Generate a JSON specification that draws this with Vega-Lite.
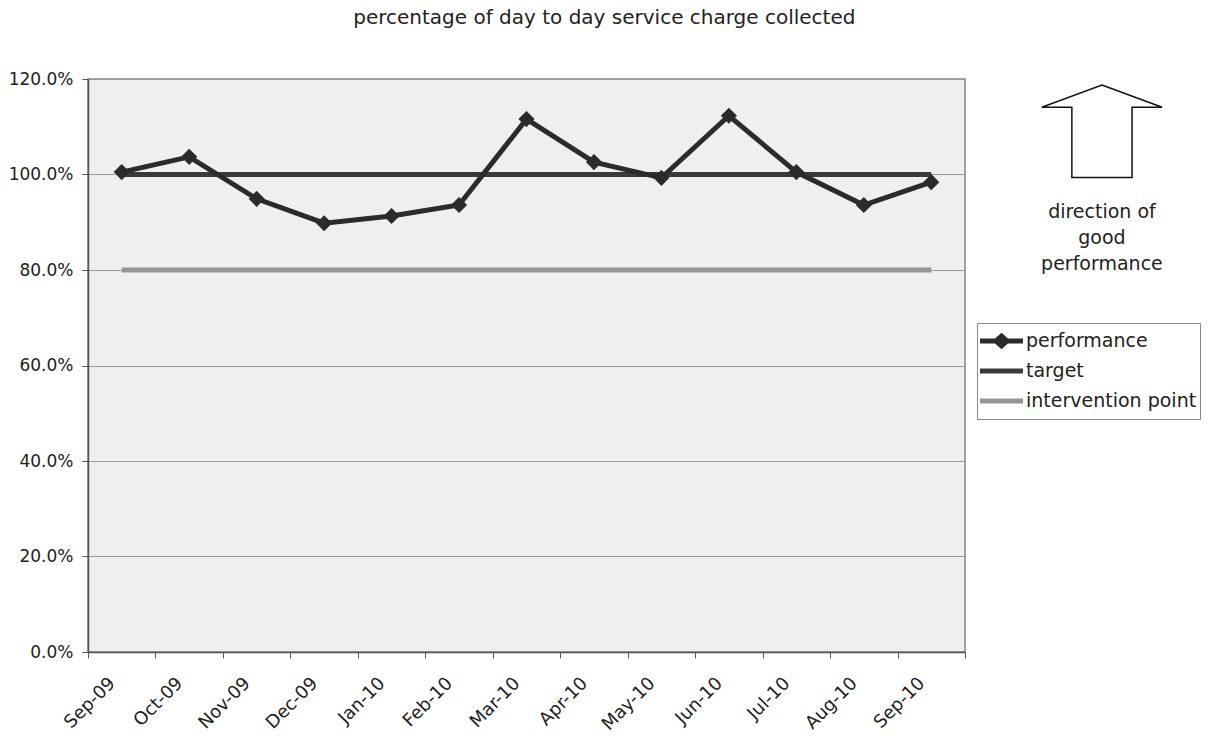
{
  "$schema": "https://vega.github.io/schema/vega-lite/v6.json",
  "autosize": {"type": "none"},
  "padding": {"left": 88, "top": 79, "right": 245, "bottom": 90},
  "width": 877,
  "height": 573,
  "background": "white",
  "title": {
    "text": "percentage of day to day service charge collected",
    "anchor": "middle",
    "frame": "bounds",
    "font": "DejaVu Sans",
    "fontSize": 20,
    "fontWeight": "normal",
    "color": "#222222",
    "offset": 42
  },
  "config": {
    "view": {"fill": "#efefef", "stroke": "#888888", "strokeWidth": 1.5},
    "axis": {"labelFont": "DejaVu Sans", "labelColor": "#222222", "titleFont": "DejaVu Sans"},
    "text": {"font": "DejaVu Sans"}
  },
  "datasets": {
    "main": [
      {"month": "Sep-09", "series": "performance", "value": 1.005},
      {"month": "Oct-09", "series": "performance", "value": 1.037},
      {"month": "Nov-09", "series": "performance", "value": 0.949},
      {"month": "Dec-09", "series": "performance", "value": 0.898},
      {"month": "Jan-10", "series": "performance", "value": 0.913},
      {"month": "Feb-10", "series": "performance", "value": 0.936},
      {"month": "Mar-10", "series": "performance", "value": 1.116},
      {"month": "Apr-10", "series": "performance", "value": 1.026},
      {"month": "May-10", "series": "performance", "value": 0.993},
      {"month": "Jun-10", "series": "performance", "value": 1.123},
      {"month": "Jul-10", "series": "performance", "value": 1.005},
      {"month": "Aug-10", "series": "performance", "value": 0.936},
      {"month": "Sep-10", "series": "performance", "value": 0.984},
      {"month": "Sep-09", "series": "target", "value": 1.0},
      {"month": "Oct-09", "series": "target", "value": 1.0},
      {"month": "Nov-09", "series": "target", "value": 1.0},
      {"month": "Dec-09", "series": "target", "value": 1.0},
      {"month": "Jan-10", "series": "target", "value": 1.0},
      {"month": "Feb-10", "series": "target", "value": 1.0},
      {"month": "Mar-10", "series": "target", "value": 1.0},
      {"month": "Apr-10", "series": "target", "value": 1.0},
      {"month": "May-10", "series": "target", "value": 1.0},
      {"month": "Jun-10", "series": "target", "value": 1.0},
      {"month": "Jul-10", "series": "target", "value": 1.0},
      {"month": "Aug-10", "series": "target", "value": 1.0},
      {"month": "Sep-10", "series": "target", "value": 1.0},
      {"month": "Sep-09", "series": "intervention point", "value": 0.8},
      {"month": "Oct-09", "series": "intervention point", "value": 0.8},
      {"month": "Nov-09", "series": "intervention point", "value": 0.8},
      {"month": "Dec-09", "series": "intervention point", "value": 0.8},
      {"month": "Jan-10", "series": "intervention point", "value": 0.8},
      {"month": "Feb-10", "series": "intervention point", "value": 0.8},
      {"month": "Mar-10", "series": "intervention point", "value": 0.8},
      {"month": "Apr-10", "series": "intervention point", "value": 0.8},
      {"month": "May-10", "series": "intervention point", "value": 0.8},
      {"month": "Jun-10", "series": "intervention point", "value": 0.8},
      {"month": "Jul-10", "series": "intervention point", "value": 0.8},
      {"month": "Aug-10", "series": "intervention point", "value": 0.8},
      {"month": "Sep-10", "series": "intervention point", "value": 0.8}
    ],
    "notes": [
      {"pos": 15.03, "value": 1.0905, "kind": "arrow", "label": ""},
      {"pos": 15.03, "value": 0.9215, "kind": "text", "label": "direction of\ngood\nperformance"}
    ]
  },
  "resolve": {"scale": {"x": "independent"}},
  "layer": [
    {
      "data": {"name": "main"},
      "layer": [
        {
          "transform": [{"filter": "datum.series == 'intervention point'"}],
          "mark": {"type": "line", "strokeWidth": 5, "color": "#959595"},
          "encoding": {
            "x": {"field": "month", "type": "ordinal", "sort": null,
              "scale": {"paddingInner": 0, "paddingOuter": 0},
              "axis": {"title": null, "labelAngle": -45, "labelFontSize": 18, "tickBand": "extent",
                "tickSize": 6, "tickColor": "#555555", "domainColor": "#555555", "domainWidth": 1.5,
                "labelPadding": 16, "labelOffset": -16}},
            "y": {"field": "value", "type": "quantitative",
              "scale": {"domain": [0, 1.2]},
              "axis": {"title": null, "values": [0, 0.2, 0.4, 0.6, 0.8, 1.0, 1.2], "format": ".1%",
                "labelFontSize": 17, "tickSize": 6, "tickColor": "#555555", "domainColor": "#555555", "domainWidth": 1.5,
                "gridColor": "#9a9a9a", "gridWidth": 1, "labelPadding": 9}}
          }
        },
        {
          "transform": [{"filter": "datum.series == 'target'"}],
          "mark": {"type": "line", "strokeWidth": 5, "color": "#3a3a3a"},
          "encoding": {
            "x": {"field": "month", "type": "ordinal", "sort": null},
            "y": {"field": "value", "type": "quantitative"}
          }
        },
        {
          "transform": [{"filter": "datum.series == 'performance'"}],
          "mark": {"type": "line", "strokeWidth": 5, "color": "#2b2b2b"},
          "encoding": {
            "x": {"field": "month", "type": "ordinal", "sort": null},
            "y": {"field": "value", "type": "quantitative"}
          }
        },
        {
          "transform": [{"filter": "datum.series == 'performance'"}],
          "mark": {"type": "point", "shape": "diamond", "filled": true, "size": 260, "opacity": 1, "color": "#2b2b2b"},
          "encoding": {
            "x": {"field": "month", "type": "ordinal", "sort": null},
            "y": {"field": "value", "type": "quantitative"}
          }
        },
        {
          "transform": [{"filter": "datum.series == 'legend only'"}],
          "mark": {"type": "point", "filled": true, "opacity": 1},
          "encoding": {
            "x": {"field": "month", "type": "ordinal", "sort": null},
            "y": {"field": "value", "type": "quantitative"},
            "color": {"field": "series", "type": "nominal",
              "scale": {"domain": ["performance", "target", "intervention point"], "range": ["#2b2b2b", "#3a3a3a", "#959595"]},
              "legend": {"title": null, "orient": "none", "legendX": 889, "legendY": 244,
                "labelFont": "DejaVu Sans", "labelFontSize": 19, "labelColor": "#222222", "labelLimit": 0,
                "symbolSize": 1849, "symbolStrokeWidth": 0, "rowPadding": 0, "clipHeight": 30, "labelOffset": 3,
                "padding": 3, "strokeColor": "#888888", "fillColor": "white"}},
            "shape": {"field": "series", "type": "nominal",
              "scale": {"domain": ["performance", "target", "intervention point"],
                "range": [
                  "M-1,-0.12L-0.3,-0.12L0,-0.38L0.3,-0.12L1,-0.12L1,0.12L0.3,0.12L0,0.38L-0.3,0.12L-1,0.12Z",
                  "M-1,-0.12L1,-0.12L1,0.12L-1,0.12Z",
                  "M-1,-0.12L1,-0.12L1,0.12L-1,0.12Z"
                ]},
              "legend": {"title": null, "orient": "none", "legendX": 889, "legendY": 244}}
          }
        }
      ]
    },
    {
      "data": {"name": "notes"},
      "layer": [
        {
          "transform": [{"filter": "datum.kind == 'arrow'"}],
          "mark": {"type": "point", "filled": false, "opacity": 1, "stroke": "#111111", "strokeWidth": 1.5,
            "size": 14470, "shape": "M0,-0.77L1,-0.4L0.5,-0.4L0.5,0.77L-0.5,0.77L-0.5,-0.4L-1,-0.4Z"},
          "encoding": {
            "x": {"field": "pos", "type": "quantitative", "scale": {"domain": [0, 13]}, "axis": null},
            "y": {"field": "value", "type": "quantitative"}
          }
        },
        {
          "transform": [{"filter": "datum.kind == 'text'"}],
          "mark": {"type": "text", "fontSize": 19, "lineHeight": 26, "lineBreak": "\n", "align": "center", "baseline": "middle", "color": "#222222"},
          "encoding": {
            "x": {"field": "pos", "type": "quantitative", "scale": {"domain": [0, 13]}, "axis": null},
            "y": {"field": "value", "type": "quantitative"},
            "text": {"field": "label"}
          }
        }
      ]
    }
  ]
}
